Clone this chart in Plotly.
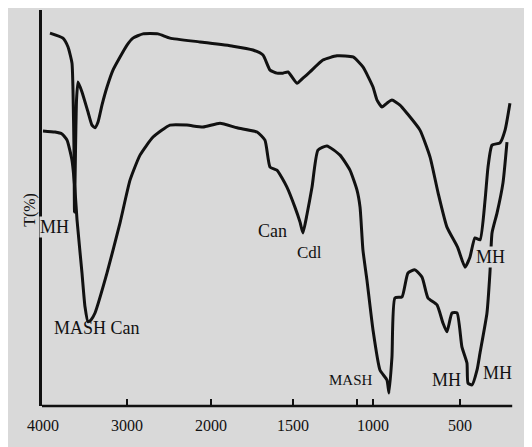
import numpy as np
import plotly.graph_objects as go

# Wavenumber axis (cm^-1) is drawn with two scales, as in the original chart
axis_wn = [4000, 3000, 2000, 1500, 1000, 500, 200]
axis_pos = [43, 127, 211, 293, 373, 460, 512.2]

tick_wn = [4000, 3000, 2000, 1500, 1100, 1000, 500]
tick_text = ["4000", "3000", "2000", "1500", "", "1000", "500"]

# Upper spectrum
upper_wn = [3917, 3762, 3702, 3655, 3643, 3631, 3625, 3613, 3601, 3583, 3536, 3464, 3417, 3381,
            3345, 3298, 3238, 3167, 3083, 3000, 2929, 2810, 2631, 2488, 2131, 1866, 1744, 1683,
            1640, 1598, 1561, 1530, 1475, 1438, 1394, 1313, 1225, 1125, 1063, 1000, 977, 948, 920,
            891, 845, 805, 730, 672, 626, 575, 514, 471, 443, 414, 385, 356, 339, 316, 270, 241, 213]
upper_T = [94.0, 92.7, 90.4, 86.2, 79.2, 63.6, 47.5, 63.6, 76.6, 81.3, 78.7, 73.5, 70.1, 69.4,
           70.9, 75.3, 80.0, 84.4, 87.8, 90.9, 92.7, 93.8, 93.8, 92.7, 91.7, 90.6, 89.6, 88.3,
           84.4, 83.6, 83.6, 83.9, 81.0, 82.3, 83.9, 87.0, 88.1, 87.8, 85.2, 80.0, 76.6, 74.8, 75.8,
           76.6, 75.3, 73.2, 68.8, 61.8, 52.5, 43.6, 38.4, 33.2, 35.8, 40.8, 40.3, 50.6, 59.2, 64.9,
           65.5, 68.8, 75.8]

# Lower spectrum
lower_wn = [4000, 3857, 3774, 3714, 3655, 3619, 3595, 3536, 3500, 3464, 3429, 3381, 3238, 3083,
            2964, 2845, 2690, 2488, 2286, 2095, 1945, 1841, 1719, 1671, 1640, 1598, 1537, 1488,
            1456, 1438, 1413, 1381, 1344, 1288, 1206, 1144, 1100, 1081, 1063, 1038, 1000, 960, 920,
            908, 891, 874, 833, 799, 759, 718, 684, 632, 598, 575, 546, 517, 489, 460, 454, 431,
            402, 385, 345, 328, 316, 287, 253, 230]
lower_T = [68.6, 68.3, 67.8, 66.2, 61.0, 53.2, 45.5, 31.7, 22.9, 19.0, 19.5, 21.3, 31.7, 44.7,
           55.8, 62.3, 67.0, 70.1, 70.1, 69.6, 70.6, 69.4, 68.3, 66.2, 59.2, 58.4, 54.0, 48.8,
           44.9, 42.1, 46.8, 54.0, 63.6, 64.7, 62.3, 58.4, 53.2, 48.8, 37.7, 29.9, 16.9, 6.5, 3.9,
           0.5, 9.9, 25.2, 25.5, 31.7, 32.5, 30.6, 25.2, 23.4, 18.7, 16.4, 21.3, 21.3, 12.5, 8.3, 3.1,
           2.6, 6.5, 10.9, 21.3, 31.7, 42.1, 47.3, 55.1, 65.7]

# Peak labels: (text, wavenumber, T, font size, masks the line behind it)
labels = [
    ("MH", 3869, 43.6, 18, True),
    ("MASH Can", 3357, 17.4, 18, False),
    ("Can", 1622, 42.6, 18, False),
    ("Cdl", 1400, 36.9, 17, False),
    ("MH", 322, 35.8, 18, True),
    ("MASH", 1138, 3.9, 15, False),
    ("MH", 575, 3.9, 18, False),
    ("MH", 282, 5.7, 18, False),
]

kp = np.array(axis_pos[::-1])
kw = np.array(axis_wn[::-1])


def to_axis(wn):
    return np.interp(np.asarray(wn, dtype=float), kw, kp)


BG = "#d9d9d9"
INK = "#111111"
FONT = "Liberation Serif, Times New Roman, serif"
X_RANGE = [42, 516]

fig = go.Figure()
for wn, t in [(upper_wn, upper_T), (lower_wn, lower_T)]:
    fig.add_trace(go.Scatter(x=to_axis(wn), y=t, mode="lines",
                             line=dict(color=INK, width=3, shape="spline", smoothing=0.5),
                             hoverinfo="skip", showlegend=False))

# x-axis baseline
fig.add_shape(type="line", xref="x", yref="paper", x0=X_RANGE[0], x1=float(to_axis(200)),
              y0=0, y1=0, line=dict(color=INK, width=2.6))

for text, wn, t, size, mask in labels:
    fig.add_annotation(x=float(to_axis(wn)), y=t, text=text, showarrow=False,
                       xanchor="center", yanchor="middle",
                       font=dict(family=FONT, size=size, color=INK),
                       bgcolor=BG if mask else None, borderpad=0)

# y-axis title, placed left of the axis line
fig.add_annotation(xref="paper", x=(30 - X_RANGE[0]) / (X_RANGE[1] - X_RANGE[0]), y=48.1,
                   xanchor="center", yanchor="middle",
                   text="T(%)", textangle=-90, showarrow=False,
                   font=dict(family=FONT, size=16, color=INK))

# page body has an 8px margin, so the figure is 8px smaller and margins shifted
fig.update_layout(
    width=524, height=439,
    margin=dict(l=34, r=16, t=2, b=41, autoexpand=False),
    paper_bgcolor=BG, plot_bgcolor=BG,
    xaxis=dict(range=X_RANGE, showgrid=False, zeroline=False, showline=False,
               automargin=False,
               tickvals=to_axis(tick_wn).tolist(), ticktext=tick_text,
               ticks="inside", ticklen=7, tickwidth=2, tickcolor=INK,
               ticklabelstandoff=8,
               tickfont=dict(family=FONT, size=16, color=INK)),
    yaxis=dict(range=[-2.86, 100], showgrid=False, zeroline=False, showline=True,
               automargin=False,
               linecolor=INK, linewidth=2.6, showticklabels=False, ticks=""),
)

fig.write_html("out.html")
